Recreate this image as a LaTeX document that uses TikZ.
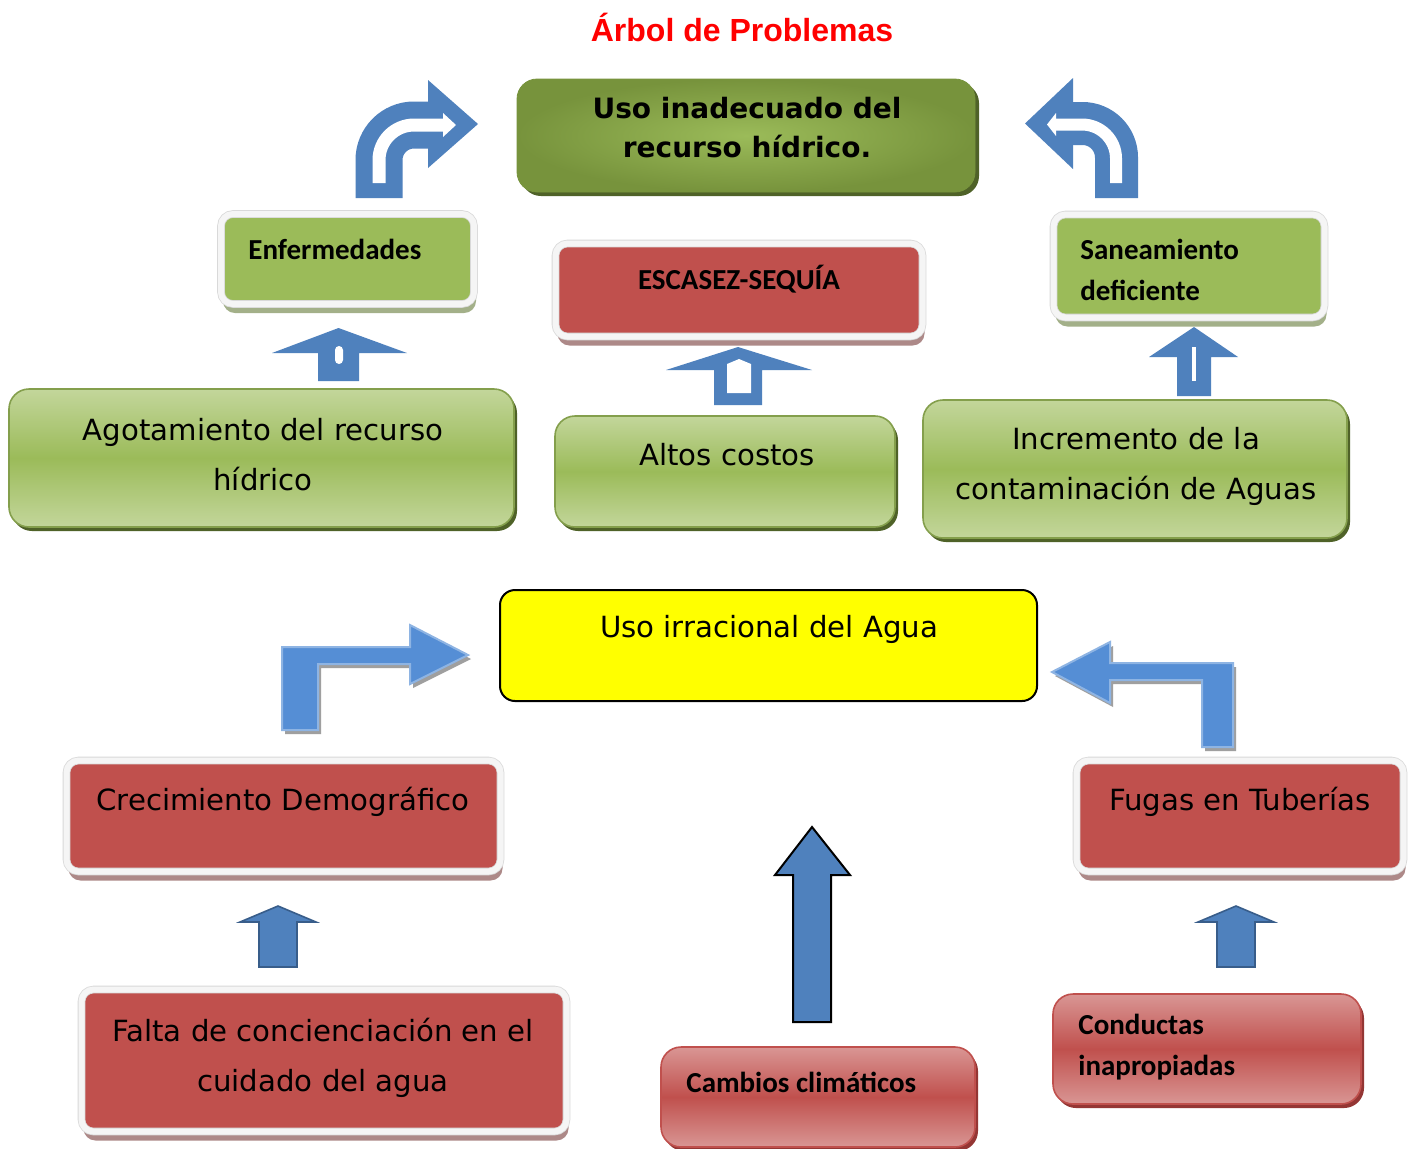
\documentclass[tikz,border=0pt]{standalone}
\usepackage{fontspec}
\setmainfont{Carlito}
\newfontfamily\comicfont{DejaVu Sans}
\newfontfamily\titlefont{Liberation Sans}
\usetikzlibrary{shadows}

\definecolor{leaf}{HTML}{9BBB59}
\definecolor{leaflt}{HTML}{C3D69B}
\definecolor{olive}{HTML}{77933C}
\definecolor{olivedk}{HTML}{4F6228}
\definecolor{brick}{HTML}{C0504D}
\definecolor{bricklt}{HTML}{D99694}
\definecolor{brickdk}{HTML}{943634}
\definecolor{lemon}{HTML}{FFFF00}
\definecolor{titlered}{HTML}{FF0000}
\definecolor{arrowblue}{HTML}{4F81BD}
\definecolor{skyblue}{HTML}{558ED5}
\definecolor{skyline}{HTML}{8EB4E3}
\definecolor{navyline}{HTML}{385D8A}

\begin{document}
\begin{tikzpicture}[x=0.5pt,y=-0.5pt,
  framed/.style={rounded corners=6pt, draw=black!15, double=black!4,
    double distance=3pt, line width=0.4pt, inner sep=0pt},
  leafbox/.style={framed, fill=leaf, drop shadow={shadow xshift=1pt,
    shadow yshift=-4.5pt, fill=leaf!50!gray, opacity=0.8}},
  brickbox/.style={framed, fill=brick, drop shadow={shadow xshift=1pt,
    shadow yshift=-4.5pt, fill=brick!40!gray, opacity=0.8}},
  leafgrad/.style={rounded corners=10pt, draw=leaf!85!black, line width=0.8pt,
    top color=leaflt, bottom color=leaflt, middle color=leaf,
    drop shadow={shadow xshift=1.5pt, shadow yshift=-2pt, fill=olivedk, opacity=1}},
  brickgrad/.style={rounded corners=10pt, draw=brick, line width=0.8pt,
    top color=bricklt, bottom color=bricklt, middle color=brick,
    drop shadow={shadow xshift=1.5pt, shadow yshift=-2pt, fill=brickdk, opacity=1}},
  comic/.style={font=\comicfont\fontsize{14.6}{25}\selectfont, align=center, inner sep=0pt},
  calbold/.style={font=\bfseries\fontsize{14.5}{20.5}\selectfont, align=left, inner sep=0pt},
  bentarrow/.style={fill=skyblue, draw=skyline, line width=1pt,
    drop shadow={shadow xshift=1.5pt, shadow yshift=-2pt, fill=gray!75, opacity=1}},
  uparrow/.style={fill=arrowblue, draw=navyline, line width=0.8pt}]

\fill[white] (0,0) rectangle (1416,1148);
\useasboundingbox (0,0) rectangle (1416,1148);

\node[font=\titlefont\bfseries\fontsize{16}{19}\selectfont, text=titlered] (titulo) at (742,27) {Árbol de Problemas};

% effects
\node[rounded corners=10pt, inner color=leaf, outer color=olive, draw=olive,
  drop shadow={shadow xshift=2pt, shadow yshift=-2pt, fill=olivedk, opacity=1},
  minimum width=229pt, minimum height=56.5pt] (efecto) at (746,135.5) {};
\node[font=\comicfont\bfseries\fontsize{14}{19.5}\selectfont, align=center] (efecto-t) at (747,128)
  {Uso inadecuado del\\recurso hídrico.};

\node[leafbox, minimum width=126.5pt, minimum height=45pt] (enf) at (347.5,259) {};
\node[calbold, anchor=west] (enf-t) at (248,249) {Enfermedades};
\node[brickbox, minimum width=183.5pt, minimum height=46.5pt] (escasez) at (739,290) {};
\node[calbold] (escasez-t) at (739,279) {ESCASEZ-SEQUÍA};
\node[leafbox, minimum width=135.5pt, minimum height=51.5pt] (saneam) at (1189,266) {};
\node[calbold, anchor=west] (saneam-t) at (1080,270) {Saneamiento\\deficiente};

\node[leafgrad, minimum width=252.5pt, minimum height=69pt] (agot) at (261.5,458) {};
\node[comic] (agot-t) at (263,455) {Agotamiento del recurso\\hídrico};
\node[leafgrad, minimum width=170pt, minimum height=55.5pt] (altos) at (725,471.5) {};
\node[comic] (altos-t) at (727,455) {Altos costos};
\node[leafgrad, minimum width=212pt, minimum height=69pt] (incr) at (1135,469) {};
\node[comic] (incr-t) at (1136,466) {Incremento de la\\contaminación de Aguas};

% central problem
\node[draw=black, line width=1pt, fill=lemon, rounded corners=7.5pt,
  minimum width=268.5pt, minimum height=55.5pt] (uso) at (768.5,645.5) {};
\node[comic] (uso-t) at (769,629) {Uso irracional del Agua};

% causes
\node[brickbox, minimum width=217pt, minimum height=55.5pt] (crec) at (283.5,816) {};
\node[comic] (crec-t) at (283,802) {Crecimiento Demográfico};
\node[brickbox, minimum width=163.5pt, minimum height=55.5pt] (fugas) at (1240,816) {};
\node[comic] (fugas-t) at (1240,802) {Fugas en Tuberías};
\node[brickbox, minimum width=242.5pt, minimum height=71pt] (falta) at (324,1060.5) {};
\node[comic] (falta-t) at (323,1058) {Falta de concienciación en el\\cuidado del agua};
\node[brickgrad, minimum width=157pt, minimum height=50pt] (cambios) at (818,1097) {};
\node[calbold, anchor=west] (cambios-t) at (686,1082) {Cambios climáticos};
\node[brickgrad, minimum width=154pt, minimum height=55pt] (conductas) at (1207,1049) {};
\node[calbold, anchor=west] (conductas-t) at (1078,1047) {Conductas\\inapropiadas};

% curved arrows to the effect
\draw[arrowblue, line width=23.5pt, rounded corners=17.5pt] (379,198) -- (379,125) -- (430,125);
\fill[arrowblue] (428,80) -- (478,124) -- (428,168) -- cycle;
\draw[white, line width=6.5pt, rounded corners=17.5pt] (379,183) -- (379,125) -- (446,125);
\fill[white] (443,113) -- (456,125) -- (443,137) -- cycle;

\draw[arrowblue, line width=21.5pt, rounded corners=17pt] (1116.5,198) -- (1116.5,123.5) -- (1071,123.5);
\fill[arrowblue] (1073,78) -- (1025,123.5) -- (1073,169) -- cycle;
\draw[white, line width=6pt, rounded corners=17pt] (1116,183) -- (1116,124.5) -- (1053,124.5);
\fill[white] (1056,113) -- (1047,124.5) -- (1056,136) -- cycle;

% small up arrows
\fill[arrowblue] (318,381) -- (318,353) -- (272,353) -- (338.5,328) -- (407,353) -- (359,353) -- (359,381) -- cycle;
\fill[white, rounded corners=2pt] (335,346) rectangle (343,364);
\fill[arrowblue] (714,405) -- (714,370) -- (666,370) -- (738,347) -- (812,370) -- (762,370) -- (762,405) -- cycle;
\fill[white] (727,393) -- (727,364) -- (739,359) -- (751,364) -- (751,393) -- cycle;
\fill[arrowblue] (1177,396) -- (1177,357) -- (1149,357) -- (1194,327) -- (1238,357) -- (1211,357) -- (1211,396) -- cycle;
\fill[white] (1192,347) rectangle (1196,381);

% bent arrows to the central problem
\path[bentarrow] (282,730) -- (282,647) -- (410,647) -- (410,625) -- (468,655) -- (410,684) -- (410,664) -- (318,664) -- (318,730) -- cycle;
\path[bentarrow] (1233,747) -- (1233,663) -- (1110,663) -- (1110,642) -- (1052,672) -- (1110,703) -- (1110,680) -- (1202,680) -- (1202,747) -- cycle;

% up arrows from the root causes
\path[fill=arrowblue, draw=black, line width=1pt] (793,1022) -- (793,875) -- (775,875) -- (812,827) -- (850,875) -- (831,875) -- (831,1022) -- cycle;
\path[uparrow] (259,967) -- (259,922) -- (240,922) -- (278,906) -- (316,922) -- (297,922) -- (297,967) -- cycle;
\path[uparrow] (1217,967) -- (1217,922) -- (1198,922) -- (1236,906) -- (1274,922) -- (1255,922) -- (1255,967) -- cycle;
\end{tikzpicture}
\end{document}
